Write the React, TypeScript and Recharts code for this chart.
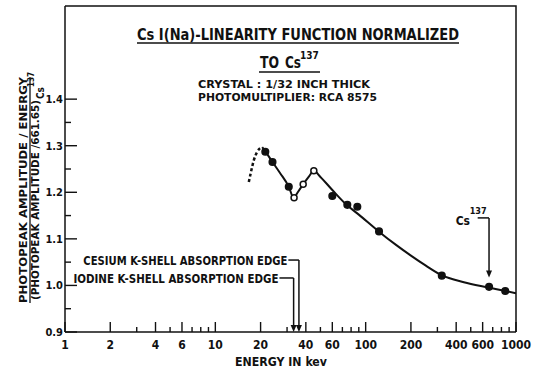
import React from 'react';
import { ComposedChart, Line, Scatter, XAxis, YAxis, ReferenceLine } from 'recharts';

const FONT = '"DejaVu Sans Condensed", "Liberation Sans Narrow", "DejaVu Sans", sans-serif';

// axis ticks (log energy axis, keV)
const xTicks = [1, 2, 3, 4, 5, 6, 7, 8, 9, 10, 20, 30, 40, 50, 60, 70, 80, 90, 100, 200, 300, 400, 500, 600, 700, 800, 900, 1000];
const xLabeled = [1, 2, 4, 6, 10, 20, 40, 60, 100, 200, 400, 600, 1000];
const yTicks = [0.9, 0.95, 1.0, 1.05, 1.1, 1.15, 1.2, 1.25, 1.3, 1.35, 1.4];

// extrapolated (dashed) part of the curve
const dashedEnergy = [16.7, 17.3, 18.0, 19.0, 20.5];
const dashedValue = [1.222, 1.245, 1.268, 1.287, 1.297];

// fitted curve
const curveEnergy = [20.5, 21.5, 24, 27, 30.8, 33.3, 35, 38.4, 42, 45.2, 50, 60, 75, 90, 122, 160, 200, 250, 320, 450, 660, 850, 1000];
const curveValue = [1.297, 1.288, 1.265, 1.241, 1.212, 1.187, 1.198, 1.217, 1.234, 1.246, 1.233, 1.205, 1.1725, 1.152, 1.116, 1.0865, 1.064, 1.043, 1.022, 1.007, 0.9955, 0.988, 0.983];

// measured points
const filledEnergy = [21.5, 24.0, 30.8, 60, 75.5, 88, 122.7, 321, 662, 848];
const filledValue = [1.287, 1.265, 1.212, 1.192, 1.173, 1.169, 1.116, 1.021, 0.997, 0.988];
const openEnergy = [33.4, 38.4, 45.2];
const openValue = [1.188, 1.217, 1.246];

// absorption edges / reference line
const iodineEdge = 33.17;
const cesiumEdge = 35.98;
const cs137Energy = 661.65;

const zip = (es: number[], vs: number[]) => es.map((e, i) => ({ e, v: vs[i] }));
const dashed = zip(dashedEnergy, dashedValue);
const curve = zip(curveEnergy, curveValue);
const filled = zip(filledEnergy, filledValue);
const open = zip(openEnergy, openValue);

const isMajorY = (v: number) => Math.abs(v * 10 - Math.round(v * 10)) < 1e-6;

const txt = { fontFamily: FONT, fontWeight: 'bold' as const, fill: '#111' };

// ticks point inward, labels sit outside
function XTick(props: any) {
  const { x, y, payload } = props;
  const v = payload.value;
  const labeled = xLabeled.includes(v);
  return (
    <g>
      <path d={`M${x},${y}V${y - (labeled ? 10 : 5)}`} stroke="#111" strokeWidth={1.4} fill="none" />
      {labeled && (
        <text x={x} y={y + 17} textAnchor="middle" fontSize={12} {...txt}>
          {v}
        </text>
      )}
    </g>
  );
}

function YTick(props: any) {
  const { x, y, payload } = props;
  const v = payload.value;
  const major = isMajorY(v);
  return (
    <g>
      <path d={`M${x},${y}H${x + (major ? 12 : 6)}`} stroke="#111" strokeWidth={1.4} fill="none" />
      {major && (
        <text x={x - 2} y={y + 4} textAnchor="end" fontSize={11} {...txt}>
          {v.toFixed(1)}
        </text>
      )}
    </g>
  );
}

const dot = (r: number, hollow: boolean) => (p: any) => (
  <circle cx={p.cx} cy={p.cy} r={r} fill={hollow ? '#fff' : '#111'} stroke="#111" strokeWidth={1.5} />
);

const arrowDown = (p: any) => (
  <g>
    <line x1={p.x1} y1={p.y1} x2={p.x2} y2={p.y2 - 4} stroke="#111" strokeWidth={1.5} />
    <path d={`M${p.x2 - 3},${p.y2 - 7} L${p.x2 + 3},${p.y2 - 7} L${p.x2},${p.y2} Z`} fill="#111" />
  </g>
);

const leader = (label: string, width: number) => (p: any) => (
  <g>
    <line x1={p.x1} y1={p.y1} x2={p.x2} y2={p.y2} stroke="#111" strokeWidth={1.5} />
    <text x={p.x1 - 1} y={p.y1 + 5} textAnchor="end" fontSize={12} textLength={width} lengthAdjust="spacingAndGlyphs" {...txt}>
      {label}
    </text>
  </g>
);

const csLeader = (p: any) => (
  <g>
    <line x1={p.x1} y1={p.y1} x2={p.x2} y2={p.y2} stroke="#111" strokeWidth={1.5} />
    <text x={p.x1 - 22} y={p.y1 + 7} fontSize={12} {...txt}>Cs</text>
    <text x={p.x1 - 8} y={p.y1 - 4} fontSize={9} {...txt}>137</text>
  </g>
);

export default function App() {
  return (
    <div style={{ position: 'absolute', left: 0, top: 0, width: 535, height: 372, background: '#fff' }}>
      <ComposedChart width={535} height={372} margin={{ top: 6, right: 19, bottom: 0, left: 0 }}>
        <XAxis
          dataKey="e" type="number" scale="log" domain={[1, 1000]} ticks={xTicks} interval={0}
          allowDataOverflow height={40} tickSize={0} tickMargin={0} tick={XTick}
          axisLine={{ stroke: '#111', strokeWidth: 1.5 }} tickLine={false}
        />
        <YAxis
          type="number" domain={[0.9, 1.6]} ticks={yTicks} interval={0} allowDataOverflow width={65}
          tickSize={0} tickMargin={0} tick={YTick} axisLine={{ stroke: '#111', strokeWidth: 1.5 }} tickLine={false}
        />

        <Line data={dashed} dataKey="v" type="monotone" stroke="#111" strokeWidth={2.5} strokeDasharray="3 2.5" dot={false} isAnimationActive={false} />
        <Line data={curve} dataKey="v" type="monotone" stroke="#111" strokeWidth={2} dot={false} isAnimationActive={false} />
        <Scatter data={filled} dataKey="v" shape={dot(3.3, false)} isAnimationActive={false} />
        <Scatter data={open} dataKey="v" shape={dot(3, true)} isAnimationActive={false} />

        <ReferenceLine segment={[{ x: 30.6, y: 1.0545 }, { x: cesiumEdge, y: 1.0545 }]} shape={leader('CESIUM K-SHELL ABSORPTION EDGE', 204)} ifOverflow="visible" />
        <ReferenceLine segment={[{ x: cesiumEdge, y: 1.0545 }, { x: cesiumEdge, y: 0.9 }]} shape={arrowDown} ifOverflow="visible" />
        <ReferenceLine segment={[{ x: 26.7, y: 1.016 }, { x: iodineEdge, y: 1.016 }]} shape={leader('IODINE K-SHELL ABSORPTION EDGE', 205)} ifOverflow="visible" />
        <ReferenceLine segment={[{ x: iodineEdge, y: 1.016 }, { x: iodineEdge, y: 0.9 }]} shape={arrowDown} ifOverflow="visible" />
        <ReferenceLine segment={[{ x: 556, y: 1.145 }, { x: cs137Energy, y: 1.145 }]} shape={csLeader} ifOverflow="visible" />
        <ReferenceLine segment={[{ x: cs137Energy, y: 1.145 }, { x: cs137Energy, y: 1.017 }]} shape={arrowDown} ifOverflow="visible" />
      </ComposedChart>

      <svg width={535} height={372} style={{ position: 'absolute', left: 0, top: 0, pointerEvents: 'none' }}>
        {/* top and right edges of the plot frame */}
        <path d="M65,6H516V332" stroke="#111" strokeWidth={1.5} fill="none" />

        <text x={137} y={40} fontSize={15} textLength={322} lengthAdjust="spacingAndGlyphs" {...txt}>
          Cs I(Na)-LINEARITY FUNCTION NORMALIZED
        </text>
        <line x1={137} x2={459} y1={43} y2={43} stroke="#111" strokeWidth={1.5} />
        <text x={260} y={68} fontSize={15} textLength={19} lengthAdjust="spacingAndGlyphs" {...txt}>TO</text>
        <text x={285} y={68} fontSize={15} textLength={16} lengthAdjust="spacingAndGlyphs" {...txt}>Cs</text>
        <text x={300} y={59} fontSize={10} {...txt}>137</text>
        <line x1={259} x2={320} y1={72} y2={72} stroke="#111" strokeWidth={1.5} />
        <text x={198} y={88} fontSize={11} textLength={172} lengthAdjust="spacingAndGlyphs" {...txt}>
          CRYSTAL : 1/32 INCH THICK
        </text>
        <text x={198} y={101} fontSize={11} textLength={179} lengthAdjust="spacingAndGlyphs" {...txt}>
          PHOTOMULTIPLIER: RCA 8575
        </text>

        <g transform="translate(27,303) rotate(-90)">
          <text x={0} y={0} fontSize={11} textLength={226} lengthAdjust="spacingAndGlyphs" {...txt}>
            PHOTOPEAK AMPLITUDE / ENERGY
          </text>
          <line x1={0} x2={226} y1={3} y2={3} stroke="#111" strokeWidth={1.3} />
        </g>
        <g transform="translate(39,300) rotate(-90)">
          <text x={0} y={0} fontSize={11} textLength={200} lengthAdjust="spacingAndGlyphs" {...txt}>
            (PHOTOPEAK AMPLITUDE /661.65)
          </text>
          <text x={201} y={5} fontSize={10} {...txt}>Cs</text>
          <text x={213} y={-5} fontSize={8} {...txt}>137</text>
        </g>

        <text x={281} y={366} fontSize={12} textAnchor="middle" textLength={92} lengthAdjust="spacingAndGlyphs" {...txt}>
          ENERGY IN kev
        </text>
      </svg>
    </div>
  );
}
